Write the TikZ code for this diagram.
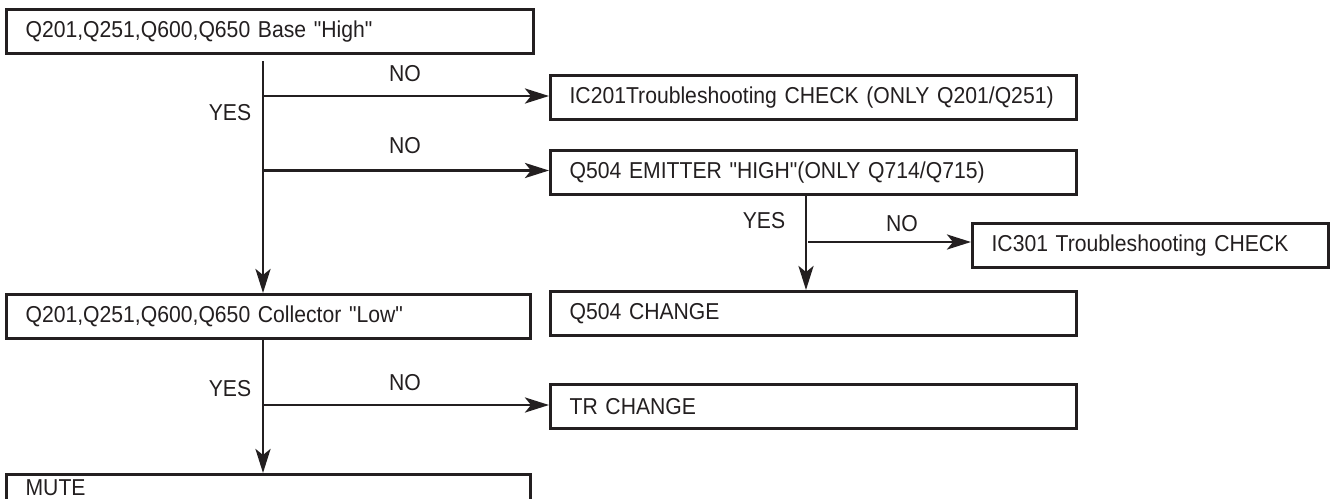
\documentclass[tikz,border=0pt]{standalone}
\usepackage{fontspec}
\setmainfont{Liberation Sans}[Ligatures=TeXOff, FakeStretch=0.92]
\usetikzlibrary{arrows.meta}
\definecolor{ink}{HTML}{231F20}
\begin{document}
\begin{tikzpicture}[x=1pt,y=-1pt,
  every node/.style={font=\fontsize{23}{27}\selectfont, text=ink},
  fbox/.style={draw=ink, line width=3.2pt, rectangle, anchor=north west,
    inner xsep=19pt, inner ysep=0pt, minimum height=44pt, align=left},
  conn/.style={draw=ink, line width=2.9pt},
  arr/.style={conn, -{Stealth[length=24pt,width=15pt,inset=6pt]}},
  lbl/.style={inner sep=0pt}]
\useasboundingbox (0,0) rectangle (1330,498);
\fill[white] (0,0) rectangle (1330,498);
% boxes
\node[fbox, text width=489pt] (a) at (5,8) {\makebox[\linewidth][l]{Q201,Q251,Q600,Q650 Base "High"}};
\node[fbox, text width=488pt] (b1) at (549,74) {\makebox[\linewidth][l]{IC201Troubleshooting CHECK (ONLY Q201/Q251)}};
\node[fbox, text width=488pt] (b2) at (549,149) {\makebox[\linewidth][l]{Q504 EMITTER "HIGH"(ONLY Q714/Q715)}};
\node[fbox, text width=318pt] (ic) at (971,222) {\makebox[\linewidth][l]{IC301 Troubleshooting CHECK}};
\node[fbox, text width=488pt] (qc) at (549,290) {\makebox[\linewidth][l]{Q504 CHANGE}};
\node[fbox, text width=486pt] (c) at (5,293) {\makebox[\linewidth][l]{Q201,Q251,Q600,Q650 Collector "Low"}};
\node[fbox, text width=488pt] (tr) at (549,383) {\makebox[\linewidth][l]{TR CHANGE}};
\node[fbox, text width=486pt, minimum height=60pt, text depth=34pt] (m) at (5,473) {\makebox[\linewidth][l]{MUTE}};
% connectors
\coordinate (t1) at (263,61);
\coordinate (j1) at (263,96);
\coordinate (j2) at (263,170.5);
\draw[arr] (t1) -- (t1 |- c.north);
\draw[arr] (j1) -- (j1 -| b1.west);
\draw[arr] (j2) -- (j2 -| b2.west);
\coordinate (t2) at (806,0 |- b2.south);
\coordinate (j3) at (808,242);
\draw[arr] (t2) -- (t2 |- qc.north);
\draw[arr] (j3) -- (j3 -| ic.west);
\coordinate (t3) at (263,0 |- c.south);
\coordinate (j4) at (263,405);
\draw[arr] (t3) -- (t3 |- m.north);
\draw[arr] (j4) -- (j4 -| tr.west);
% labels
\node[lbl] (n1) at (405,74) {NO};
\node[lbl] (y1) at (230,113) {YES};
\node[lbl] (n2) at (405,146) {NO};
\node[lbl] (y2) at (764,221) {YES};
\node[lbl] (n3) at (902,224) {NO};
\node[lbl] (n4) at (405,383) {NO};
\node[lbl] (y4) at (230,389) {YES};
\end{tikzpicture}
\end{document}
